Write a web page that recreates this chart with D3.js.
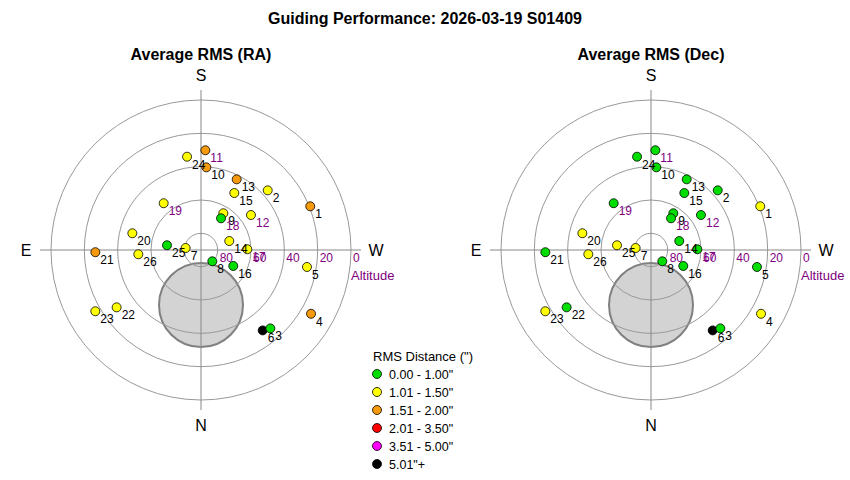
<!DOCTYPE html>
<html>
<head>
<meta charset="utf-8">
<script src="https://cdn.jsdelivr.net/npm/d3@7"></script>
<style>
  body { margin: 0; background: #fff; }
  svg { font-family: "Liberation Sans", Arial, sans-serif; }
</style>
</head>
<body>
<div id="chart"></div>
<script>
// session points (frame number, azimuth, altitude)
var ids = [1, 2, 3, 4, 5, 6, 7, 8, 9, 10, 11, 12, 13, 14, 15, 16, 17, 18, 19, 20, 21, 22, 23, 24, 25, 26];
var azimuth = [248.2, 228.2, 318.5, 300.1, 279.1, 322.5, 97.4, 315, 211.3, 183.7, 182.5, 235, 206.8, 252.4, 210.3, 296.3, 269.1, 212.3, 141.4, 103.7, 88.8, 55.8, 59.9, 171.5, 97.9, 86.1];
var altitude = [19.4, 36.3, 27.2, 13.7, 25.6, 29.2, 80.7, 80.4, 64.2, 40.3, 30.1, 53.4, 42.5, 72.2, 50.4, 68.4, 62.2, 67.5, 54.1, 47.6, 26.6, 28.8, 16.7, 33.4, 69.4, 52.3];
var rmsRA = [1.72, 1.31, 0.86, 1.78, 1.22, 6.1, 1.18, 0.91, 1.27, 1.64, 1.81, 1.35, 1.58, 1.12, 1.29, 0.88, 1.41, 0.95, 1.19, 1.26, 1.69, 1.33, 1.44, 1.21, 0.93, 1.38];
var rmsDec = [1.08, 0.74, 0.81, 1.12, 0.92, 5.6, 1.05, 0.66, 0.71, 0.83, 0.79, 0.88, 0.69, 0.77, 0.85, 0.72, 0.94, 0.64, 0.87, 1.14, 0.97, 0.82, 1.21, 0.76, 1.03, 1.17];
var flipped = [11, 12, 17, 18, 19]; // labels shown in purple

var ringAlts = [80, 60, 40, 20, 0];
var legendLabels = ['0.00 - 1.00"', '1.01 - 1.50"', '1.51 - 2.00"', '2.01 - 3.50"', '3.51 - 5.00"', '5.01"+'];
var legendColors = ["#00dd00", "#ffff00", "#f59a0c", "#ff0000", "#ff00ff", "#000000"];
var breaks = [1.005, 1.505, 2.005, 3.505, 5.005];

var width = 850, height = 480;
var color = d3.scaleThreshold().domain(breaks).range(legendColors);
var rScale = d3.scaleLinear().domain([90, 0]).range([0, 150]);

var svg = d3.select("#chart").append("svg")
    .attr("width", width)
    .attr("height", height);

svg.append("text")
    .attr("x", 425).attr("y", 24)
    .attr("text-anchor", "middle")
    .attr("font-size", 16).attr("font-weight", "bold")
    .text("Guiding Performance: 2026-03-19 S01409");

function drawPolar(cx, cy, title, values) {
    var g = svg.append("g");

    g.append("text")
        .attr("x", cx).attr("y", cy - 190)
        .attr("text-anchor", "middle")
        .attr("font-size", 16).attr("font-weight", "bold")
        .text(title);

    // blocked region
    g.append("circle")
        .attr("cx", cx).attr("cy", cy + 55).attr("r", 42)
        .attr("fill", "#d3d3d3").attr("stroke", "#808080").attr("stroke-width", 2);

    g.selectAll(".ring")
        .data(ringAlts)
        .enter().append("circle")
        .attr("class", "ring")
        .attr("cx", cx).attr("cy", cy)
        .attr("r", function (d) { return rScale(d); })
        .attr("fill", "none").attr("stroke", "#999").attr("stroke-width", 1);

    g.append("line")
        .attr("x1", cx - 161).attr("x2", cx + 160).attr("y1", cy).attr("y2", cy)
        .attr("stroke", "#888");
    g.append("line")
        .attr("x1", cx).attr("x2", cx).attr("y1", cy - 160).attr("y2", cy + 160)
        .attr("stroke", "#888");

    g.selectAll(".ringLabel")
        .data(ringAlts)
        .enter().append("text")
        .attr("x", function (d) { return cx + rScale(d) + 2; })
        .attr("y", cy + 12)
        .attr("font-size", 12).attr("fill", "#800080")
        .text(function (d) { return d; });

    g.append("text")
        .attr("x", cx + 150).attr("y", cy + 30)
        .attr("font-size", 13).attr("fill", "#800080")
        .text("Altitude");

    var dirs = [["S", 0, -175], ["N", 0, 175], ["E", -175, 0], ["W", 175, 0]];
    g.selectAll(".dir")
        .data(dirs)
        .enter().append("text")
        .attr("x", function (d) { return cx + d[1]; })
        .attr("y", function (d) { return cy + d[2] + 6; })
        .attr("text-anchor", "middle")
        .attr("font-size", 16)
        .text(function (d) { return d[0]; });

    var pts = ids.map(function (id, i) {
        var a = (azimuth[i] - 180) * Math.PI / 180;
        var r = rScale(altitude[i]);
        return { id: id, x: cx + r * Math.sin(a), y: cy - r * Math.cos(a), v: values[i] };
    });
    // worst guiding drawn first
    var order = pts.slice().sort(function (a, b) { return b.v - a.v; });

    g.selectAll(".pt")
        .data(order)
        .enter().append("circle")
        .attr("cx", function (d) { return d.x; })
        .attr("cy", function (d) { return d.y; })
        .attr("r", 4.5)
        .attr("fill", function (d) { return color(d.v); })
        .attr("stroke", "#000").attr("stroke-width", 0.8);

    g.selectAll(".ptLabel")
        .data(pts)
        .enter().append("text")
        .attr("x", function (d) { return d.x + 5; })
        .attr("y", function (d) { return d.y + 12; })
        .attr("font-size", 12)
        .attr("fill", function (d) { return flipped.indexOf(d.id) >= 0 ? "#800080" : "#000"; })
        .text(function (d) { return d.id; });
}

drawPolar(201, 250, "Average RMS (RA)", rmsRA);
drawPolar(651, 250, "Average RMS (Dec)", rmsDec);

// legend
var legend = svg.append("g").attr("transform", "translate(377,374)");
legend.append("text")
    .attr("x", -4).attr("y", -13)
    .attr("font-size", 13)
    .text('RMS Distance (")');
var item = legend.selectAll(".item")
    .data(legendLabels)
    .enter().append("g")
    .attr("transform", function (d, i) { return "translate(0," + i * 18 + ")"; });
item.append("circle")
    .attr("r", 4.5)
    .attr("fill", function (d, i) { return legendColors[i]; })
    .attr("stroke", "#000").attr("stroke-width", 0.8);
item.append("text")
    .attr("x", 12).attr("y", 4.5)
    .attr("font-size", 12.5)
    .text(function (d) { return d; });
</script>
</body>
</html>
